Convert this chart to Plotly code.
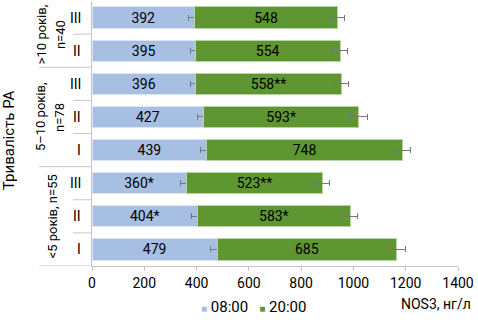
import plotly.graph_objects as go

rows = ["III", "II", "III", "II", "I", "III", "II", "I"]
morning = [392, 395, 396, 427, 439, 360, 404, 479]
evening = [548, 554, 558, 593, 748, 523, 583, 685]
morning_labels = ["392", "395", "396", "427", "439", "360*", "404*", "479"]
evening_labels = ["548", "554", "558**", "593*", "748", "523**", "583*", "685"]
morning_err = [21, 20, 20, 22, 23, 20, 23, 25]
evening_err = [27, 30, 29, 32, 32, 25, 29, 35]
groups = [([">10 років,", "n=40"], 0, 1), (["5–10 років,", "n=78"], 2, 4), (["<5 років, n=55"], 5, 7)]
xticks = [0, 200, 400, 600, 800, 1000, 1200, 1400]
series_names = ["08:00", "20:00"]
colors = ["#a7bfe3", "#5e9632"]

FONT = "Liberation Sans Narrow, Roboto, sans-serif"
pos = list(range(len(rows)))

fig = go.Figure()
for vals, labels, errs, name, col, edge in [
    (morning, morning_labels, morning_err, series_names[0], colors[0], "#dde6f4"),
    (evening, evening_labels, evening_err, series_names[1], colors[1], "#b9d3a5"),
]:
    fig.add_trace(go.Bar(
        y=pos, x=vals, orientation="h", name=name,
        marker=dict(color=col, line=dict(color=edge, width=1)),
        text=labels, textposition="inside", insidetextanchor="middle",
        textfont=dict(color="black", size=14, family=FONT),
        error_x=dict(type="data", array=errs, color="#777777", thickness=1, width=3),
        width=0.64, showlegend=False,
    ))

shapes = []
group_ends = [g[2] for g in groups]
for i in range(len(rows) - 1):
    b = i + 0.5
    x0 = -0.145 if i in group_ends else -0.052
    shapes.append(dict(type="line", xref="paper", yref="y", x0=x0, x1=0, y0=b, y1=b,
                       line=dict(color="#c8c8c8", width=1)))
shapes.append(dict(type="line", xref="paper", yref="y", x0=-0.145, x1=0, y0=len(rows) - 0.5,
                   y1=len(rows) - 0.5, line=dict(color="#c4c4c4", width=1)))

annotations = []
# row labels (roman numerals), right-aligned next to the axis
for p, r in zip(pos, rows):
    annotations.append(dict(
        x=-0.0246, xref="paper", y=p, yref="y", text=r, showarrow=False,
        font=dict(size=14, family=FONT, color="black"), xanchor="right", yanchor="middle",
    ))
for lines, a, b in groups:
    xs = [-0.139, -0.0875] if len(lines) == 2 else [-0.109]
    for line, xp in zip(lines, xs):
        annotations.append(dict(
            x=xp, xref="paper", y=(a + b) / 2, yref="y", text=line, showarrow=False,
            textangle=-90, font=dict(size=13, family=FONT, color="black"),
            xanchor="center", yanchor="middle", align="center",
        ))
annotations.append(dict(
    x=-0.227, xref="paper", y=3.7, yref="y", text="Тривалість РА", showarrow=False,
    textangle=-90, font=dict(size=15, family=FONT, color="black"),
    xanchor="center", yanchor="middle",
))
annotations.append(dict(
    x=1.04, xref="paper", y=-0.105, yref="paper", text="NOS3, нг/л", showarrow=False,
    font=dict(size=14, family=FONT, color="black"), xanchor="right", yanchor="top",
))
legend_text = "   ".join(
    f'<span style="color:{c};font-size:10px">■</span> {n}' for n, c in zip(series_names, colors)
)
annotations.append(dict(
    x=0.44, xref="paper", y=-0.115, yref="paper", text=legend_text, showarrow=False,
    font=dict(size=15, family=FONT, color="black"), xanchor="center", yanchor="top",
))

fig.update_layout(
    width=478, height=324,
    margin=dict(l=92, r=20, t=1, b=58),
    barmode="stack",
    plot_bgcolor="white", paper_bgcolor="white",
    font=dict(family=FONT, size=14, color="black"),
    showlegend=False,
    uniformtext=dict(minsize=14, mode="show"),
    shapes=shapes, annotations=annotations,
    xaxis=dict(range=[0, 1400], tickvals=xticks, showgrid=False, zeroline=False,
               showline=True, linecolor="#c4c4c4", ticks="outside", ticklen=4,
               tickcolor="#c4c4c4", tickfont=dict(size=14, family=FONT)),
    yaxis=dict(tickvals=pos, showticklabels=False, range=[len(rows) - 0.5, -0.5],
               showgrid=False, zeroline=False, showline=True, linecolor="#c4c4c4",
               ticks=""),
)

fig.write_html("out.html")
